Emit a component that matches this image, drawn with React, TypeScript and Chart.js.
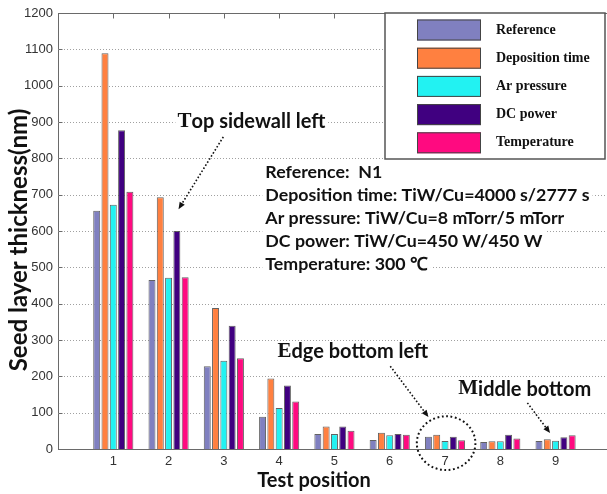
import React, { useEffect, useRef } from "react";
import { Chart, registerables } from "chart.js";

Chart.register(...registerables);

// ---- data ----
const positions = [1, 2, 3, 4, 5, 6, 7, 8, 9];
const positionLabels = ["1", "2", "3", "4", "5", "6", "7", "8", "9"];

const seriesNames = ["Reference", "Deposition time", "Ar pressure", "DC power", "Temperature"];
const reference = [656, 465, 228, 89, 41, 25, 34, 19, 22];
const depositionTime = [1089, 693, 388, 194, 62, 45, 39, 21, 27];
const arPressure = [672, 471, 243, 113, 41, 38, 22, 21, 23];
const dcPower = [877, 600, 339, 175, 62, 41, 34, 39, 32];
const temperature = [708, 473, 250, 131, 50, 39, 24, 29, 38];
const seriesValues = [reference, depositionTime, arPressure, dcPower, temperature];
const seriesColors = ["#8080c0", "#ff8040", "#22f2f2", "#400080", "#ff0a80"];

const yTickValues = [0, 100, 200, 300, 400, 500, 600, 700, 800, 900, 1000, 1100, 1200];
const yTickLabels = ["0", "100", "200", "300", "400", "500", "600", "700", "800", "900", "1000", "1100", "1200"];
const yMin = 0;
const yMax = 1200;
const xMin = 0;
const xMax = 9.93;

const conditionLines = [
  "Reference:  N1",
  "Deposition time: TiW/Cu=4000 s/2777 s",
  "Ar pressure: TiW/Cu=8 mTorr/5 mTorr",
  "DC power: TiW/Cu=450 W/450 W",
  "Temperature: 300 \u2103",
];

const xTitle = "Test position";
const yTitle = "Seed layer thickness(nm)";

const SANS = "Lato, 'Open Sans', sans-serif";
const SERIF = "'Liberation Serif', 'DejaVu Serif', serif";
const TICK_FONT = "'Liberation Sans', Arial, sans-serif";

function dottedArrow(ctx: CanvasRenderingContext2D, x1: number, y1: number, x2: number, y2: number) {
  const ang = Math.atan2(y2 - y1, x2 - x1);
  const head = 7;
  ctx.save();
  ctx.strokeStyle = "#111";
  ctx.fillStyle = "#111";
  ctx.lineWidth = 1.6;
  ctx.setLineDash([1.6, 2]);
  ctx.beginPath();
  ctx.moveTo(x1, y1);
  ctx.lineTo(x2 - Math.cos(ang) * head * 0.8, y2 - Math.sin(ang) * head * 0.8);
  ctx.stroke();
  ctx.setLineDash([]);
  ctx.beginPath();
  ctx.moveTo(x2, y2);
  ctx.lineTo(x2 - head * Math.cos(ang) + 3 * Math.sin(ang), y2 - head * Math.sin(ang) - 3 * Math.cos(ang));
  ctx.lineTo(x2 - head * Math.cos(ang) - 3 * Math.sin(ang), y2 - head * Math.sin(ang) + 3 * Math.cos(ang));
  ctx.closePath();
  ctx.fill();
  ctx.restore();
}

// Label whose first letter is set in a serif face, the rest in bold sans.
function mixedLabel(ctx: CanvasRenderingContext2D, text: string, x: number, y: number, size: number, bg: boolean) {
  ctx.save();
  ctx.textBaseline = "middle";
  ctx.textAlign = "left";
  const first = text.charAt(0);
  const rest = text.slice(1);
  ctx.font = `bold ${size + 1}px ${SERIF}`;
  const w1 = ctx.measureText(first).width;
  ctx.font = `bold ${size}px ${SANS}`;
  const w2 = ctx.measureText(rest).width;
  if (bg) {
    ctx.fillStyle = "#fff";
    ctx.fillRect(x - 2, y - size * 0.6, w1 + w2 + 4, size * 1.2);
  }
  ctx.fillStyle = "#111";
  ctx.font = `bold ${size + 1}px ${SERIF}`;
  ctx.fillText(first, x, y);
  ctx.font = `bold ${size}px ${SANS}`;
  ctx.fillText(rest, x + w1, y);
  ctx.restore();
}

const decorPlugin = {
  id: "decor",
  beforeDatasetsDraw(chart: any) {
    const { ctx, chartArea, scales } = chart;
    const y = scales.y;
    const x = scales.x;
    ctx.save();
    // dotted horizontal grid
    ctx.strokeStyle = "#a0a0a0";
    ctx.lineWidth = 1;
    ctx.setLineDash([1, 2]);
    for (const v of yTickValues) {
      if (v === yMin || v === yMax) continue;
      const py = Math.round(y.getPixelForValue(v)) + 0.5;
      ctx.beginPath();
      ctx.moveTo(chartArea.left, py);
      ctx.lineTo(chartArea.right, py);
      ctx.stroke();
    }
    ctx.restore();

    // condition notes, each line on a white background
    ctx.save();
    ctx.font = `bold 17.8px ${SANS}`;
    ctx.textBaseline = "middle";
    ctx.textAlign = "left";
    const tx = x.getPixelForValue(3.75);
    const ty = y.getPixelForValue(762);
    const step = 23;
    conditionLines.forEach((line, i) => {
      const w = ctx.measureText(line).width;
      ctx.fillStyle = "#fff";
      ctx.fillRect(tx - 3, ty + i * step - step / 2, w + 6, step);
    });
    ctx.fillStyle = "#111";
    conditionLines.forEach((line, i) => {
      ctx.fillText(line, tx, ty + i * step);
    });
    ctx.restore();

    mixedLabel(ctx, "Top sidewall left", x.getPixelForValue(2.16), y.getPixelForValue(900), 20, true);
  },
  afterDatasetsDraw(chart: any) {
    const { ctx, chartArea, scales } = chart;
    const y = scales.y;
    const x = scales.x;

    ctx.save();
    // top frame line and inward tick marks
    ctx.strokeStyle = "#6a6a6a";
    ctx.lineWidth = 1;
    const top = Math.round(chartArea.top) + 0.5;
    ctx.beginPath();
    ctx.moveTo(chartArea.left, top);
    ctx.lineTo(chartArea.right, top);
    ctx.stroke();
    for (const p of positions) {
      const px = Math.round(x.getPixelForValue(p)) + 0.5;
      ctx.beginPath();
      ctx.moveTo(px, top);
      ctx.lineTo(px, top + 5);
      ctx.stroke();
    }
    const left = Math.round(chartArea.left) + 0.5;
    for (const v of yTickValues) {
      const py = Math.round(y.getPixelForValue(v)) + 0.5;
      ctx.beginPath();
      ctx.moveTo(left, py);
      ctx.lineTo(left + 4, py);
      ctx.stroke();
    }
    ctx.restore();

    // annotations
    dottedArrow(ctx, x.getPixelForValue(2.99), y.getPixelForValue(859), x.getPixelForValue(2.18), y.getPixelForValue(660));

    mixedLabel(ctx, "Edge bottom left", x.getPixelForValue(3.97), y.getPixelForValue(267), 20, false);
    dottedArrow(ctx, x.getPixelForValue(6.01), y.getPixelForValue(228), x.getPixelForValue(6.7), y.getPixelForValue(88));

    mixedLabel(ctx, "Middle bottom", x.getPixelForValue(7.24), y.getPixelForValue(165), 20, false);
    dottedArrow(ctx, x.getPixelForValue(8.49), y.getPixelForValue(127), x.getPixelForValue(8.9), y.getPixelForValue(44));

    // dotted ring around position 7
    ctx.save();
    const cx = x.getPixelForValue(7.02);
    const cy = y.getPixelForValue(16);
    const rx = x.getPixelForValue(7.02 + 0.53) - cx;
    const ry = y.getPixelForValue(0) - y.getPixelForValue(74);
    ctx.strokeStyle = "#111";
    ctx.lineWidth = 2;
    ctx.setLineDash([1.8, 2.6]);
    ctx.beginPath();
    ctx.ellipse(cx, cy, rx, ry, 0, 0, Math.PI * 2);
    ctx.stroke();
    ctx.restore();

    // legend box
    ctx.save();
    const bx = 385;
    const by = chartArea.top;
    const bw = 220;
    const bh = 146;
    ctx.fillStyle = "#fff";
    ctx.fillRect(bx, by, bw, bh);
    ctx.strokeStyle = "#555";
    ctx.lineWidth = 1.5;
    ctx.strokeRect(bx, by, bw, bh);
    ctx.font = `bold 14px ${SERIF}`;
    ctx.textBaseline = "middle";
    ctx.textAlign = "left";
    seriesNames.forEach((name, i) => {
      const sy = by + 6.5 + i * 28.2;
      ctx.fillStyle = seriesColors[i];
      ctx.fillRect(bx + 32, sy, 64, 21);
      ctx.strokeStyle = "#444";
      ctx.lineWidth = 1;
      ctx.strokeRect(bx + 32 + 0.5, sy + 0.5, 63, 20);
      ctx.fillStyle = "#111";
      ctx.fillText(name, bx + 111, sy + 10.5);
    });
    ctx.restore();

    // axis titles
    ctx.save();
    ctx.fillStyle = "#111";
    ctx.textAlign = "center";
    ctx.textBaseline = "middle";
    ctx.font = `bold 20px ${SANS}`;
    ctx.fillText(xTitle, 314, 481);
    ctx.translate(19, 240);
    ctx.rotate(-Math.PI / 2);
    ctx.font = `bold 24px ${SANS}`;
    ctx.fillText(yTitle, 0, 0);
    ctx.restore();
  },
};

export default function App() {
  const canvasRef = useRef<HTMLCanvasElement | null>(null);

  useEffect(() => {
    const canvas = canvasRef.current;
    if (!canvas) return;
    const datasets = seriesNames.map((name, i) => ({
      label: name,
      data: positions.map((p, j) => ({ x: p, y: seriesValues[i][j] })),
      backgroundColor: seriesColors[i],
      borderColor: "rgba(70,70,70,0.85)",
      borderWidth: 1,
      categoryPercentage: 0.75,
      barPercentage: 0.84,
    }));

    const chart = new Chart(canvas, {
      type: "bar",
      data: { datasets },
      options: {
        animation: false,
        responsive: true,
        maintainAspectRatio: false,
        layout: { padding: { top: 13, right: 0, left: 0, bottom: 0 } },
        plugins: {
          legend: { display: false },
          tooltip: { enabled: false },
        },
        scales: {
          x: {
            type: "linear",
            min: xMin,
            max: xMax,
            offset: false,
            grid: { display: false, drawTicks: false },
            border: { display: true, color: "#6a6a6a", width: 1 },
            afterBuildTicks: (scale: any) => {
              scale.ticks = positions.map((v) => ({ value: v }));
            },
            afterFit: (scale: any) => {
              scale.height = 45;
            },
            ticks: {
              autoSkip: false,
              maxRotation: 0,
              padding: 5,
              color: "#333",
              font: { family: TICK_FONT, size: 13 },
              callback: (value: any) => {
                const idx = positions.indexOf(Number(value));
                return idx >= 0 ? positionLabels[idx] : "";
              },
            },
          },
          y: {
            type: "linear",
            min: yMin,
            max: yMax,
            grid: { display: false, drawTicks: false },
            border: { display: true, color: "#6a6a6a", width: 1 },
            afterBuildTicks: (scale: any) => {
              scale.ticks = yTickValues.map((v) => ({ value: v }));
            },
            afterFit: (scale: any) => {
              scale.width = 58;
            },
            ticks: {
              padding: 5,
              color: "#333",
              font: { family: TICK_FONT, size: 13 },
              callback: (value: any) => {
                const idx = yTickValues.indexOf(Number(value));
                return idx >= 0 ? yTickLabels[idx] : "";
              },
            },
          },
        },
      },
      plugins: [decorPlugin],
    });

    return () => chart.destroy();
  }, []);

  return (
    <div style={{ position: "absolute", left: 0, top: 0, width: 607, height: 494, background: "#fff" }}>
      <canvas ref={canvasRef} />
    </div>
  );
}
